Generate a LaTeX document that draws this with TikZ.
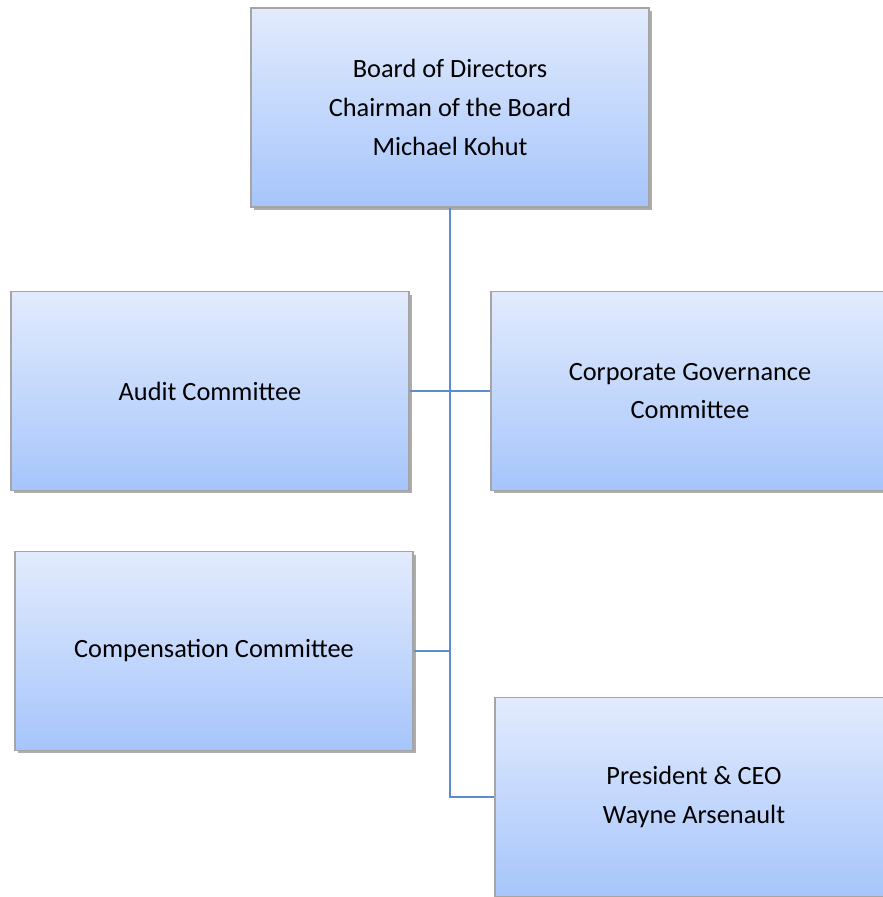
\documentclass[tikz,border=0pt]{standalone}
\usepackage{fontspec}
\setmainfont{Carlito}
\usetikzlibrary{shadows}
\definecolor{boxtop}{RGB}{226,235,253}
\definecolor{boxbottom}{RGB}{166,197,251}
\definecolor{boxedge}{RGB}{165,165,165}
\definecolor{linkblue}{RGB}{92,140,206}

\begin{document}
\begin{tikzpicture}[x=0.02cm,y=-0.02cm,
    orgbox/.style={draw=boxedge,line width=0.8pt,top color=boxtop,bottom color=boxbottom,
      minimum width=7.96cm,minimum height=3.98cm,align=center,
      font=\fontsize{15}{22}\selectfont,
      drop shadow={shadow xshift=0.06cm,shadow yshift=-0.06cm,fill=black!50,opacity=0.65}},
    link/.style={draw=linkblue,line width=1.3pt}]
          \useasboundingbox (0,0) rectangle (883,897);
          \fill[white] (0,0) rectangle (883,897);
          \node[orgbox] (board) at (450,107.5) {Board of Directors\\Chairman of the Board\\Michael Kohut};
          \node[orgbox] (audit) at (210,391) {Audit Committee};
          \node[orgbox] (govern) at (690,391) {Corporate Governance\\Committee};
          \node[orgbox] (comp) at (214,651) {Compensation Committee};
          \node[orgbox] (ceo) at (694,797) {President \& CEO\\Wayne Arsenault};
          % connectors
          \draw[link] (board.south) |- (ceo.west);
          \draw[link] (audit.east) -- (govern.west);
          \draw[link] (comp.east) -- (comp.east -| board.south);
        \end{tikzpicture}
\end{document}
